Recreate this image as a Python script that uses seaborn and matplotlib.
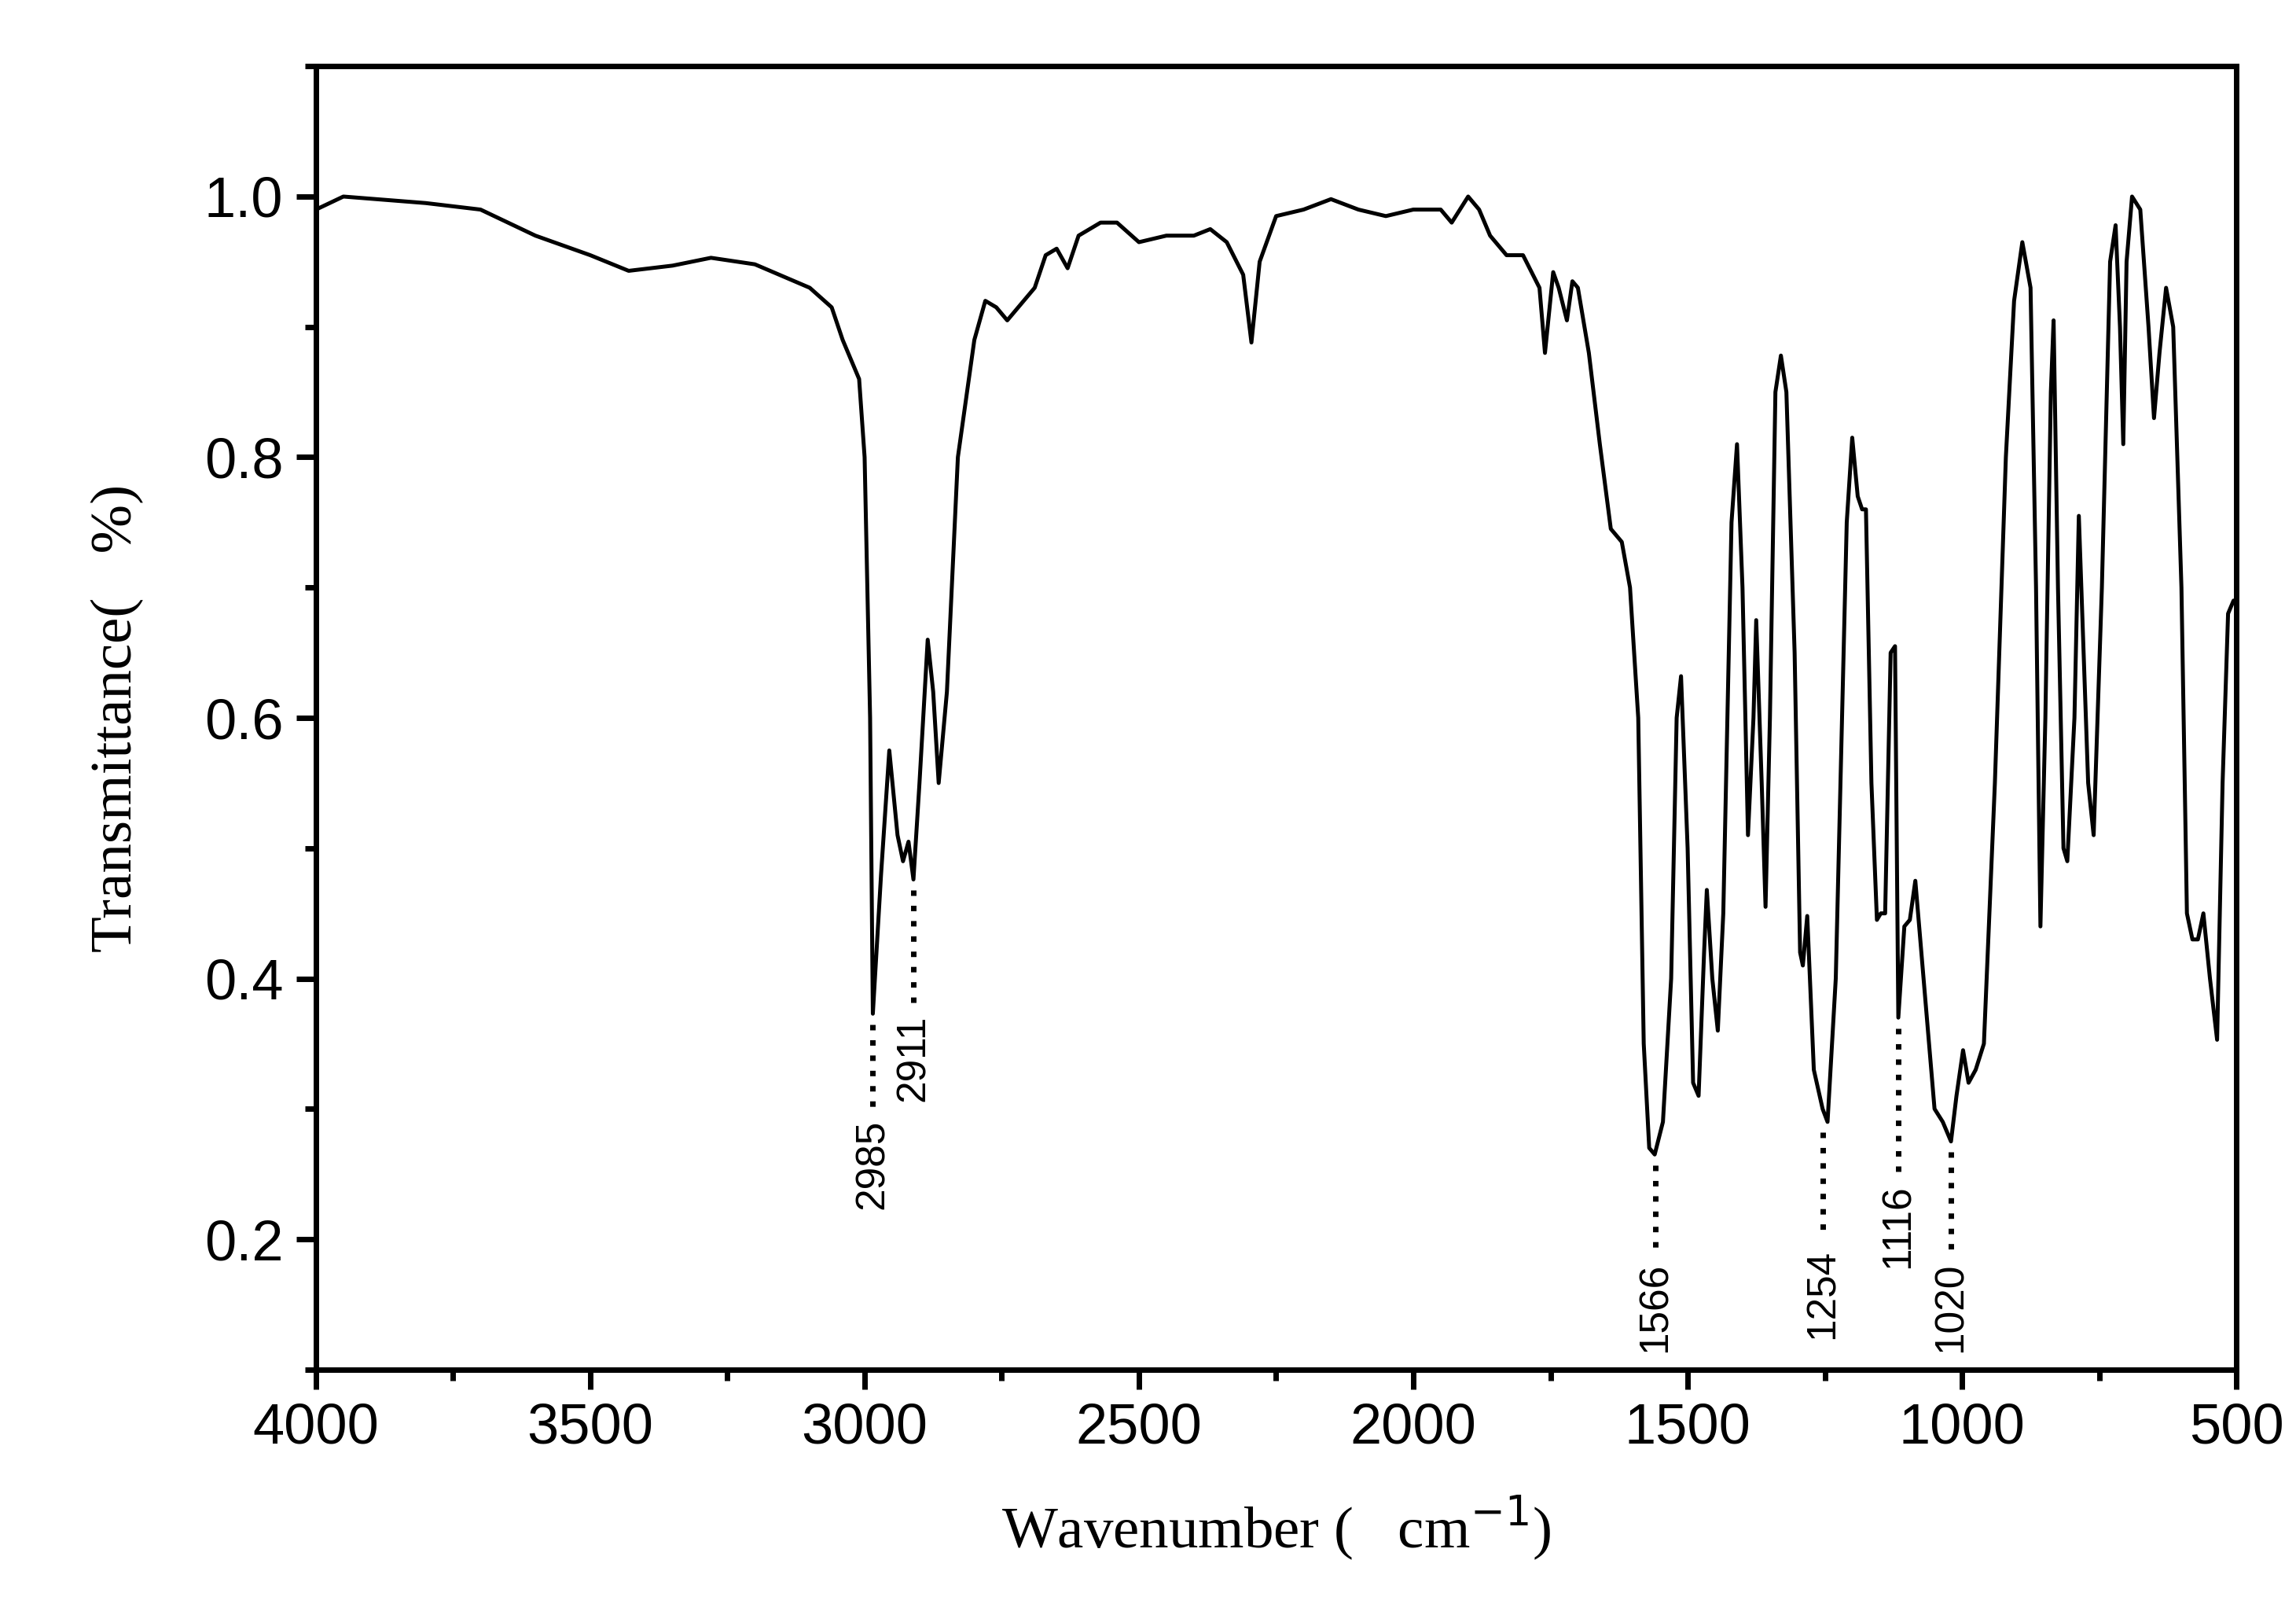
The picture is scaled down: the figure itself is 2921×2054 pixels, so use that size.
import matplotlib
matplotlib.use("Agg")
import matplotlib.pyplot as plt
import seaborn as sns
import pandas as pd
from matplotlib.ticker import MultipleLocator

wavenumber = [4000,3950,3800,3700,3600,3500,3430,3350,3280,3200,3100,3060,3040,3010,3000,2990,2985,2970,2955,2940,2930,2920,2911,2900,2885,2875,2865,2850,2830,2800,2780,2760,2740,2720,2690,2670,2650,2630,2610,2570,2540,2500,2450,2400,2370,2340,2310,2295,2280,2250,2200,2150,2100,2050,2000,1950,1930,1900,1880,1860,1830,1800,1770,1760,1745,1735,1720,1710,1700,1680,1660,1640,1620,1605,1590,1580,1570,1560,1545,1530,1520,1512,1500,1490,1480,1470,1465,1455,1445,1435,1420,1410,1400,1390,1380,1375,1365,1358,1350,1340,1330,1320,1305,1295,1290,1282,1270,1254,1245,1230,1210,1200,1190,1182,1175,1165,1155,1148,1140,1130,1122,1116,1105,1095,1085,1070,1050,1035,1020,1010,998,988,975,960,940,920,905,890,875,865,857,848,838,833,825,815,808,795,787,780,770,760,745,730,720,712,706,700,690,675,660,650,640,628,615,600,590,580,570,560,548,535,525,515,505,500]
transmittance = [0.99,1.0,0.995,0.99,0.97,0.955,0.943,0.947,0.953,0.948,0.93,0.915,0.89,0.86,0.80,0.60,0.373,0.48,0.575,0.51,0.49,0.505,0.476,0.55,0.66,0.62,0.55,0.62,0.80,0.89,0.92,0.915,0.905,0.915,0.93,0.955,0.96,0.945,0.97,0.98,0.98,0.965,0.97,0.97,0.975,0.965,0.94,0.888,0.95,0.985,0.99,0.998,0.99,0.985,0.99,0.99,0.98,1.0,0.99,0.97,0.955,0.955,0.93,0.88,0.942,0.93,0.905,0.935,0.93,0.88,0.81,0.745,0.735,0.70,0.60,0.35,0.27,0.265,0.29,0.40,0.60,0.632,0.50,0.32,0.31,0.42,0.468,0.40,0.36,0.45,0.75,0.81,0.70,0.51,0.60,0.675,0.55,0.455,0.60,0.85,0.878,0.85,0.65,0.42,0.41,0.448,0.33,0.30,0.29,0.40,0.75,0.815,0.77,0.76,0.76,0.55,0.445,0.45,0.45,0.65,0.655,0.37,0.44,0.445,0.475,0.40,0.30,0.29,0.275,0.31,0.345,0.32,0.33,0.35,0.55,0.80,0.92,0.965,0.93,0.70,0.44,0.60,0.85,0.905,0.70,0.50,0.49,0.60,0.755,0.67,0.55,0.51,0.70,0.95,0.978,0.90,0.81,0.95,1.0,0.99,0.90,0.83,0.88,0.93,0.90,0.70,0.45,0.43,0.43,0.45,0.40,0.353,0.55,0.68,0.69,0.69]

peak_labels = ["2985", "2911", "1566", "1254", "1116", "1020"]
peak_positions = [2985, 2911, 1559, 1254, 1116, 1020]
peak_values = [0.373, 0.476, 0.265, 0.29, 0.37, 0.275]
dot_ends = [0.30, 0.38, 0.19, 0.20, 0.25, 0.19]

sns.set_style("ticks")
plt.rcParams["font.family"] = ["Liberation Sans", "DejaVu Sans"]
plt.rcParams["text.color"] = "black"
plt.rcParams["axes.labelcolor"] = "black"

fig = plt.figure(figsize=(29.21, 20.54), dpi=100)
ax = fig.add_axes([0.1376, 0.152, 0.8364, 0.807])
df = pd.DataFrame({"w": wavenumber, "t": transmittance})
sns.lineplot(data=df, x="w", y="t", sort=False, color="black", linewidth=3.6, ax=ax)

for lab, x, y0, y1 in zip(peak_labels, peak_positions, peak_values, dot_ends):
    ax.plot([x, x], [y0 - 0.008, y1], color="black", linestyle=(0, (1, 1.8)), linewidth=5)
    ax.text(x, y1 - 0.008, lab, rotation=90, ha="center", va="top", fontsize=37, color="black")

ax.set_xlim(4000, 500)
ax.set_ylim(0.1, 1.1)
ax.xaxis.set_major_locator(MultipleLocator(500))
ax.xaxis.set_minor_locator(MultipleLocator(250))
ax.yaxis.set_minor_locator(MultipleLocator(0.1))
ax.set_yticks([0.2, 0.4, 0.6, 0.8, 1.0])
ax.set_yticklabels(["0.2", "0.4", "0.6", "0.8", "1.0"])
ax.tick_params(which="major", length=18, width=5, labelsize=52, direction="out", pad=12,
               colors="black")
ax.tick_params(which="minor", length=10, width=5, direction="out", colors="black")
for s in ax.spines.values():
    s.set_linewidth(5)
    s.set_color("black")
    s.set_visible(True)
ax.set_xlabel("Wavenumber (   cm$^{-1}$)", fontsize=54, family="Liberation Serif", labelpad=35)
ax.set_ylabel("Transmittance(   %)", fontsize=54, family="Liberation Serif", labelpad=55)
fig.savefig("out.png", dpi=100)
